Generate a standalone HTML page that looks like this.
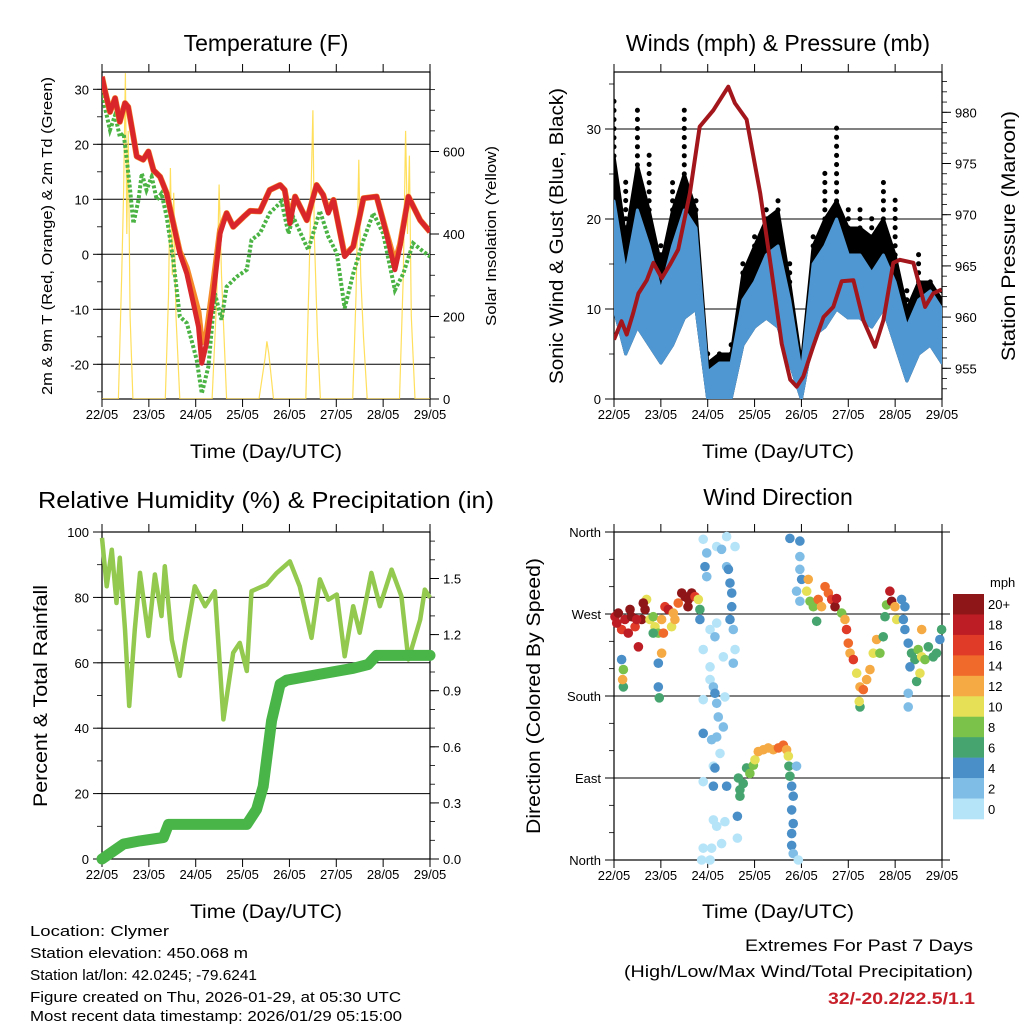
<!DOCTYPE html>
<html><head><meta charset="utf-8"><style>
body{margin:0;background:#fff;}
svg{display:block;font-family:"Liberation Sans",sans-serif;}
</style></head><body>
<svg id="fig" width="1024" height="1024" viewBox="0 0 1024 1024" xmlns="http://www.w3.org/2000/svg">
<rect width="1024" height="1024" fill="#fff"/>
<g id="layer"></g>
<g font-size="23" text-anchor="middle" fill="#000">
<text x="266" y="51">Temperature (F)</text>
<text x="778" y="51">Winds (mph) &amp; Pressure (mb)</text>
<text x="266" y="508" textLength="456" lengthAdjust="spacingAndGlyphs">Relative Humidity (%) &amp; Precipitation (in)</text>
<text x="778" y="505">Wind Direction</text>
</g>
<g font-size="19" text-anchor="middle" fill="#000">
<text x="266" y="458" textLength="152" lengthAdjust="spacingAndGlyphs">Time (Day/UTC)</text>
<text x="778" y="458" textLength="152" lengthAdjust="spacingAndGlyphs">Time (Day/UTC)</text>
<text x="266" y="918" textLength="152" lengthAdjust="spacingAndGlyphs">Time (Day/UTC)</text>
<text x="778" y="918" textLength="152" lengthAdjust="spacingAndGlyphs">Time (Day/UTC)</text>
<text transform="translate(52,236) rotate(-90)" font-size="15" textLength="318" lengthAdjust="spacingAndGlyphs">2m &amp; 9m T (Red, Orange) &amp; 2m Td (Green)</text>
<text transform="translate(496,236) rotate(-90)" font-size="15" textLength="180" lengthAdjust="spacingAndGlyphs">Solar Insolation (Yellow)</text>
<text transform="translate(563,236) rotate(-90)" textLength="296" lengthAdjust="spacingAndGlyphs">Sonic Wind &amp; Gust (Blue, Black)</text>
<text transform="translate(1015,236) rotate(-90)" textLength="250" lengthAdjust="spacingAndGlyphs">Station Pressure (Maroon)</text>
<text transform="translate(47,696) rotate(-90)" textLength="222" lengthAdjust="spacingAndGlyphs">Percent &amp; Total Rainfall</text>
<text transform="translate(540,696) rotate(-90)" textLength="276" lengthAdjust="spacingAndGlyphs">Direction (Colored By Speed)</text>
</g>
<g font-size="15" fill="#000">
<text x="30" y="936" textLength="139" lengthAdjust="spacingAndGlyphs">Location: Clymer</text>
<text x="30" y="958" textLength="218" lengthAdjust="spacingAndGlyphs">Station elevation: 450.068 m</text>
<text x="30" y="980" textLength="227" lengthAdjust="spacingAndGlyphs">Station lat/lon: 42.0245; -79.6241</text>
<text x="30" y="1002" textLength="371" lengthAdjust="spacingAndGlyphs">Figure created on Thu, 2026-01-29, at 05:30 UTC</text>
<text x="30" y="1021" textLength="372" lengthAdjust="spacingAndGlyphs">Most recent data timestamp: 2026/01/29 05:15:00</text>
</g>
<g font-size="17" fill="#000" text-anchor="end">
<text x="973" y="951" textLength="228" lengthAdjust="spacingAndGlyphs">Extremes For Past 7 Days</text>
<text x="973" y="977" textLength="349" lengthAdjust="spacingAndGlyphs">(High/Low/Max Wind/Total Precipitation)</text>
<text x="975" y="1004" fill="#c8202a" font-weight="bold" textLength="147" lengthAdjust="spacingAndGlyphs">32/-20.2/22.5/1.1</text>
</g>
</svg>
<script>
// ---------- data ----------
const dayLabels=["22/05","23/05","24/05","25/05","26/05","27/05","28/05","29/05"];
const tempT=[0,0.06,0.17,0.28,0.38,0.49,0.56,0.67,0.74,0.88,0.99,1.10,1.24,1.38,1.52,1.66,1.81,1.95,2.06,2.13,2.23,2.38,2.52,2.66,2.80,3.02,3.16,3.37,3.58,3.80,3.90,4.01,4.12,4.37,4.58,4.72,4.83,4.94,5.18,5.36,5.58,5.86,6.07,6.25,6.36,6.54,6.79,7.0];
const tempRed=[32.3,29.9,25.9,28.4,24.1,27.5,26.8,21.4,17.8,17.2,18.7,15.3,14.1,11.1,5.6,0.2,-3.5,-8.9,-13.2,-19.8,-16.2,-7.1,3.8,7.5,5.0,6.8,7.9,7.8,11.7,12.6,11.7,5.6,10.5,6.2,12.6,10.8,7.5,9.9,-0.4,1.4,10.2,10.5,3.8,-2.8,1.4,10.5,6.2,4.1];
const tempOrange=[32.3,29.9,25.9,28.4,24.1,27.5,26.8,21.4,17.8,17.2,18.7,15.3,14.1,11.1,5.8,0.5,-2.5,-7.0,-10.5,-16.0,-14.5,-5.0,4.5,7.5,5.0,6.8,7.9,7.8,11.7,12.6,11.7,6.5,10.5,6.2,12.6,10.8,7.8,9.9,-0.2,1.4,10.2,10.5,4.0,-1.5,1.8,10.5,6.2,4.1];
const dewT=[0,0.06,0.17,0.28,0.38,0.46,0.53,0.60,0.67,0.78,0.85,0.95,1.06,1.17,1.27,1.38,1.52,1.66,1.81,1.91,2.02,2.13,2.27,2.41,2.55,2.66,2.87,3.09,3.19,3.37,3.58,3.83,3.98,4.08,4.40,4.65,4.83,5.01,5.18,5.36,5.58,5.79,6.00,6.25,6.43,6.64,6.86,7.0];
const dewV=[31.7,26.8,22.6,25.3,21.4,22.0,17.2,11.7,5.6,9.9,14.7,11.7,14.1,9.9,11.1,6.8,-1.0,-11.3,-12.5,-15.6,-19.2,-25.3,-20.4,-7.1,-11.9,-5.9,-4.1,-2.8,2.6,3.8,7.5,9.6,3.8,6.8,0.8,7.9,3.2,0.2,-9.8,-3.5,2.6,7.5,3.8,-6.5,-3.5,2.0,0.5,-0.4];
const solarT=[0,0.35,0.42,0.46,0.5,0.53,0.56,0.6,0.66,1.35,1.42,1.46,1.5,1.53,1.58,1.66,2.35,2.45,2.5,2.55,2.66,3.35,3.48,3.52,3.56,3.66,4.35,4.42,4.47,4.5,4.53,4.6,4.66,5.35,5.42,5.48,5.52,5.58,5.66,6.35,6.43,6.48,6.52,6.56,6.6,6.68,7.0];
const solarV=[0,0,300,500,790,400,650,200,0,0,250,560,300,500,200,0,0,250,520,300,0,0,100,140,110,0,0,300,550,700,400,150,0,0,250,580,300,150,0,0,300,650,400,590,200,0,0];
const windT=[0,0.25,0.5,0.75,1,1.25,1.5,1.75,2,2.25,2.5,2.75,3,3.25,3.5,3.75,4,4.25,4.5,4.75,5,5.25,5.5,5.75,6,6.25,6.5,6.75,7];
const windLo=[10,5,8,6,4,6,9,10,0,0,0,6,8,9,8,4,0,7,8,10,9,9,8,10,6,2,5,6,4];
const windHi=[22,14,21,17,12,17,21,19,3,4,4,11,13,16,17,11,3,15,17,20,16,16,14,16,13,8,11,12,10];
const gustDense=[27,18,26,21,15,21,25,21,4,5,5,14,17,20,21,13,4,17,20,22,19,19,18,20,16,10,13,13,11];
const gustHi=[34,25,33,28,18,25,33,23,6,6,7,16,19,22,23,16,6,19,26,31,22,22,21,25,23,13,17,14,13];
const presT=[0,0.16,0.27,0.41,0.52,0.70,0.84,1.02,1.19,1.37,1.62,1.83,2.12,2.44,2.58,2.83,3.12,3.36,3.58,3.76,3.90,4.04,4.25,4.47,4.68,4.86,5.11,5.32,5.57,5.75,5.96,6.10,6.39,6.64,6.81,6.99];
const presV=[957.8,959.6,958.3,960.4,962.3,963.6,965.3,963.8,965.1,966.6,972.1,978.6,980.2,982.5,980.9,979.3,972.1,964.6,957.4,953.9,953.2,954.2,957.1,960.0,961.0,963.5,963.6,959.7,957.1,959.7,965.3,965.6,965.3,961.0,962.3,962.7];
const rhT=[0,0.1,0.21,0.31,0.38,0.49,0.58,0.70,0.81,0.99,1.13,1.27,1.34,1.49,1.66,1.77,1.98,2.20,2.41,2.59,2.80,2.94,3.09,3.19,3.51,3.73,4.01,4.22,4.47,4.65,4.83,5.01,5.18,5.36,5.50,5.75,5.93,6.18,6.39,6.54,6.79,6.89,7.0];
const rhV=[98.2,83.4,94.6,78.3,92.1,70.2,46.8,70.2,87.5,68.2,87,74.3,89.5,67.1,56,66.1,83.4,77.3,81.9,42.7,63.1,66.1,57.5,81.9,83.9,87.5,91,83.4,67.6,85.5,79.3,80.9,62,77.3,69.2,87.5,77.3,88.5,80.4,61,73.2,82.4,79.9];
const rainT=[0,0.46,0.81,1.31,1.42,3.09,3.30,3.44,3.62,3.80,3.94,4.65,5.36,5.68,5.86,7.0];
const rainV=[0,0.08,0.097,0.115,0.185,0.185,0.265,0.388,0.74,0.935,0.956,0.988,1.02,1.04,1.089,1.089];
const dirHours=[0.5,2.2,3.9,5.6,7.3,9.0,10.8,12.5,14.2,15.9,16.7,18.4,20.1,21.0,22.7,24.4,26.1,27.8,29.5,31.2,32.9,34.7,36.4,38.1,39.8,41.5,43.2,44.0,3.9,4.8,4.8,4.4,22.7,22.7,23.2,24.4,1.4,8.2,11.6,15.0,20.1,25.3,30.4,37.9,
45.7,47.5,46.6,47.5,52.6,55.1,57.7,62.0,57.7,58.6,59.4,60.3,60.3,59.4,61.1,44.0,49.2,52.6,51.7,45.7,49.2,56.0,62.0,61.1,49.2,50.9,51.7,45.7,52.6,56.8,53.4,56.0,52.6,50.0,45.7,54.3,50.9,45.7,51.7,57.7,50.9,50.9,52.6,56.8,55.1,45.7,50.0,44.9,49.2,63.2,63.2,
63.7,64.5,64.5,66.2,67.9,69.6,71.4,72.2,73.9,76.5,79.0,81.6,84.2,86.7,88.4,89.3,89.6,90.1,91.0,91.8,91.0,91.8,91.0,91.0,91.8,94.4,93.5,
90.1,95.2,95.2,95.2,96.1,93.5,95.2,99.5,98.7,100.4,102.1,104.6,106.3,108.1,109.8,111.5,113.2,114.0,103.8,116.6,
118.3,119.1,120.0,120.9,122.6,124.3,126.0,127.7,129.4,131.1,132.8,134.5,136.2,137.9,138.8,139.6,141.3,142.2,143.9,144.8,126.0,125.6,
147.3,148.2,149.0,150.7,152.4,154.1,155.8,157.6,157.6,159.3,161.0,163.5,165.2,166.9,167.8,150.7,150.7,151.6,155.0,156.7,149.0];
const dirDeg=[267,271,253,264,249,267,256,234,264,275,286,264,267,256,249,264,278,275,256,264,282,293,289,286,293,289,286,275,220,209,190,198,216,190,178,227,260,275,264,282,249,249,271,278,
352,337,322,311,344,341,355,344,322,319,304,293,278,264,253,264,253,260,245,231,212,223,231,216,198,190,183,176,172,179,157,146,135,132,139,117,103,86,101,81,81,44,37,42,18,13,13,0,0,48,24,
90,77,70,84,101,95,104,110,119,121,123,121,123,126,121,114,103,92,81,70,55,40,29,16,7,0,103,
353,350,333,319,308,295,284,308,295,284,278,286,278,300,293,286,278,287,262,271,
264,253,238,227,220,205,190,187,198,209,227,242,227,245,267,280,295,284,278,264,168,174,
286,264,253,238,227,220,231,223,253,220,234,223,227,242,253,183,168,212,196,205,278];
const dirSpeed=[18,20,16,18,18,20,16,18,20,20,10,10,8,10,8,12,16,18,10,12,14,20,20,20,20,16,10,6,4,8,6,12,4,4,6,12,18,20,18,20,6,14,12,20,
0,2,4,2,0,2,0,0,2,4,4,4,4,4,2,4,0,0,2,0,0,0,0,2,0,2,4,0,2,0,2,2,2,2,4,0,0,0,4,4,4,0,0,0,0,0,0,0,0,4,0,
6,6,6,6,6,8,8,10,12,12,12,12,14,14,12,10,6,6,4,4,4,4,4,4,2,0,2,
4,4,2,2,4,2,2,12,10,8,8,14,12,14,14,16,20,18,6,8,
12,16,14,12,16,10,12,14,12,12,10,12,8,6,6,8,18,20,12,10,6,10,
4,4,4,4,6,6,8,10,12,8,6,6,6,4,6,2,2,4,6,10,4];
const speedColors=["#b5e3f8","#80bde6","#4a8fc7","#46a56f","#7bc24b","#e6e057","#f6aa44","#f06a2b","#e03a29","#bd1d24","#8e1518"];
const speedLabels=["0","2","4","6","8","10","12","14","16","18","20+"];
const tempTicks=[-20,-10,0,10,20,30];
const solarTicks=[0,200,400,600];
const windTicks=[0,10,20,30];
const presTicks=[955,960,965,970,975,980];
const rhTicks=[0,20,40,60,80,100];
const rainTicks=[0,0.3,0.6,0.9,1.2,1.5];
const dirTicks=[0,90,180,270,360];
const dirNames=["North","East","South","West","North"];

// ---------- helpers ----------
const NS="http://www.w3.org/2000/svg";
const root=document.getElementById('layer');
function mk(tag,attrs,parent){const e=document.createElementNS(NS,tag);for(const k in attrs)e.setAttribute(k,attrs[k]);(parent||root).appendChild(e);return e;}
function lin(d0,d1,r0,r1){return v=>r0+(v-d0)*(r1-r0)/(d1-d0);}
function pathOf(xs,ys,sx,sy){return xs.map((t,i)=>(i?'L':'M')+sx(t).toFixed(1)+','+sy(ys[i]).toFixed(1)).join('');}
function bandOf(xs,lo,hi,sx,sy){let d=xs.map((t,i)=>(i?'L':'M')+sx(t).toFixed(1)+','+sy(hi[i]).toFixed(1)).join('');for(let i=xs.length-1;i>=0;i--)d+='L'+sx(xs[i]).toFixed(1)+','+sy(lo[i]).toFixed(1);return d+'Z';}

function frame(x0,x1,y0,y1,name){
  const g=mk('g',{});
  
  
  const sx=lin(0,7,x0,x1);
  dayLabels.forEach((lab,i)=>{
    const x=sx(i);
    const t1=mk('line',{x1:x,x2:x,y1:y1,y2:y1+8,stroke:'#000','stroke-width':1},g);
    
    
    const t2=mk('line',{x1:x,x2:x,y1:y0,y2:y0-8,stroke:'#000','stroke-width':1},g);
    
    
    const tx=mk('text',{x:x,y:y1+20,'font-size':13,'text-anchor':'middle'},g);
    
    
    tx.textContent=lab;
  });
  return {g,sx};
}
function yAxis(g,side,x,ticks,sy,labelFmt,minorStep,lo,hi,gridX1,gridX2){
  const dir=side==='left'?-1:1;
  for(let v=lo;v<=hi+1e-9;v+=minorStep){
    const y=sy(v);
    const m=mk('line',{x1:x,x2:x+dir*5,y1:y,y2:y,stroke:'#000','stroke-width':0.8},g);
    
    
  }
  ticks.forEach((v,i)=>{
    const y=sy(v);
    const t=mk('line',{x1:x,x2:x+dir*9,y1:y,y2:y,stroke:'#000','stroke-width':1},g);
    
    
    if(gridX1!==undefined){
      const gl=mk('line',{x1:gridX1,x2:gridX2,y1:y,y2:y,stroke:'#000','stroke-width':1},g);
      
      
    }
    const tx=mk('text',{x:x+dir*13,y:y+5,'font-size':13,'text-anchor':side==='left'?'end':'start'},g);
    
    
    tx.textContent=labelFmt(v,i);
  });
}
function box(g,x0,x1,y0,y1){const r=mk('rect',{x:x0,y:y0,width:x1-x0,height:y1-y0,fill:'none',stroke:'#000','stroke-width':1.2},g);}

// ---------- Panel 1: temperature ----------
(function(){
  const x0=102,x1=430,y0=72,y1=399;
  const {g,sx}=frame(x0,x1,y0,y1,'temperature');
  const sy=v=>254.3-5.5*v;
  const ss=v=>399-0.4125*v;
  yAxis(g,'left',x0,tempTicks,sy,v=>String(v),5,-25,30,x0,x1);
  yAxis(g,'right',x1,solarTicks,ss,v=>String(v),50,0,750);
  const clip=mk('clipPath',{id:'c1'});mk('rect',{x:x0,y:y0,width:x1-x0,height:y1-y0},clip);
  const pl=mk('g',{'clip-path':'url(#c1)'});
  const s=mk('path',{d:pathOf(solarT,solarV,sx,ss),fill:'none',stroke:'#ffd940','stroke-width':1.2,opacity:0.85},pl);
  
  const d=mk('path',{d:pathOf(dewT,dewV,sx,sy),fill:'none',stroke:'#4ab343','stroke-width':4,'stroke-dasharray':'3 2'},pl);
  
  const o=mk('path',{d:pathOf(tempT,tempOrange,sx,sy),fill:'none',stroke:'#f58a2a','stroke-width':6,'stroke-linejoin':'round'},pl);
  
  const r=mk('path',{d:pathOf(tempT,tempRed,sx,sy),fill:'none',stroke:'#d9262a','stroke-width':5,'stroke-linejoin':'round'},pl);
  
  box(g,x0,x1,y0,y1);
})();

// ---------- Panel 2: winds ----------
(function(){
  const x0=614,x1=942,y0=72,y1=399;
  const {g,sx}=frame(x0,x1,y0,y1,'winds');
  const sy=v=>399-9*v;
  const sp=v=>368.3-10.24*(v-955);
  yAxis(g,'left',x0,windTicks,sy,v=>String(v),5,0,35,x0,x1);
  yAxis(g,'right',x1,presTicks,sp,v=>String(v),1,953,983);
  const clip=mk('clipPath',{id:'c2'});mk('rect',{x:x0,y:y0,width:x1-x0,height:y1-y0},clip);
  const pl=mk('g',{'clip-path':'url(#c2)'});
  // sparse gust tails: vertical dotted strokes from dense top to max gust
  windT.forEach((t,i)=>{
    const l=mk('line',{x1:sx(t),x2:sx(t),y1:sy(gustDense[i]),y2:sy(gustHi[i]),stroke:'#000','stroke-width':5,'stroke-linecap':'round','stroke-dasharray':'0.1 9'},pl);
    
    
  });
  const gb=mk('path',{d:bandOf(windT,windLo,gustDense,sx,sy),fill:'#000',stroke:'#000','stroke-width':3,'stroke-linejoin':'round'},pl);
  
  const wb=mk('path',{d:bandOf(windT,windLo,windHi,sx,sy),fill:'#4f97d3',stroke:'#4f97d3','stroke-width':3,'stroke-linejoin':'round'},pl);
  
  const p=mk('path',{d:pathOf(presT,presV,sx,sp),fill:'none',stroke:'#a3171c','stroke-width':4,'stroke-linejoin':'round'},pl);
  
  box(g,x0,x1,y0,y1);
})();

// ---------- Panel 3: RH & precip ----------
(function(){
  const x0=102,x1=430,y0=532,y1=859;
  const {g,sx}=frame(x0,x1,y0,y1,'humidity');
  const sy=v=>859-3.27*v;
  const sr=v=>859-187*v;
  yAxis(g,'left',x0,rhTicks,sy,v=>String(v),10,0,100,x0,x1);
  yAxis(g,'right',x1,rainTicks,sr,v=>v.toFixed(1),0.1,0,1.7);
  const h=mk('path',{d:pathOf(rhT,rhV,sx,sy),fill:'none',stroke:'#93c94f','stroke-width':4.5,'stroke-linejoin':'round'});
  
  const p=mk('path',{d:pathOf(rainT,rainV,sx,sr),fill:'none',stroke:'#49b548','stroke-width':11,'stroke-linejoin':'round','stroke-linecap':'round'});
  
  box(g,x0,x1,y0,y1);
})();

// ---------- Panel 4: wind direction ----------
(function(){
  const x0=614,x1=942,y0=532,y1=860;
  const {g,sx}=frame(x0,x1,y0,y1,'wind-direction');
  const sy=v=>860-v*(328/360);
  yAxis(g,'left',x0,dirTicks,sy,(v,i)=>dirNames[i],30,0,360,x0-6,x1+8);
  const pts=mk('g',{});
  
  
  dirHours.forEach((h,i)=>{
    const ci=Math.min(10,Math.floor(dirSpeed[i]/2));
    const c=mk('circle',{cx:sx(h/24),cy:sy(dirDeg[i]),r:4.8,fill:speedColors[ci]},pts);
    
    
  });
  box(g,x0,x1,y0,y1);
  const cb=mk('g',{});
  
  
  const bh=225/11;
  for(let i=10;i>=0;i--){
    const y=594+(10-i)*bh;
    const r=mk('rect',{x:953,y:y,width:31,height:bh+0.3,fill:speedColors[i]},cb);
    
    
    const t=mk('text',{x:988,y:y+bh/2+5,'font-size':13},cb);
    
    
    t.textContent=speedLabels[i];
  }
  const u=mk('text',{x:990,y:587,'font-size':13},cb);
  
  
  u.textContent='mph';
})();
</script>
</body></html>
